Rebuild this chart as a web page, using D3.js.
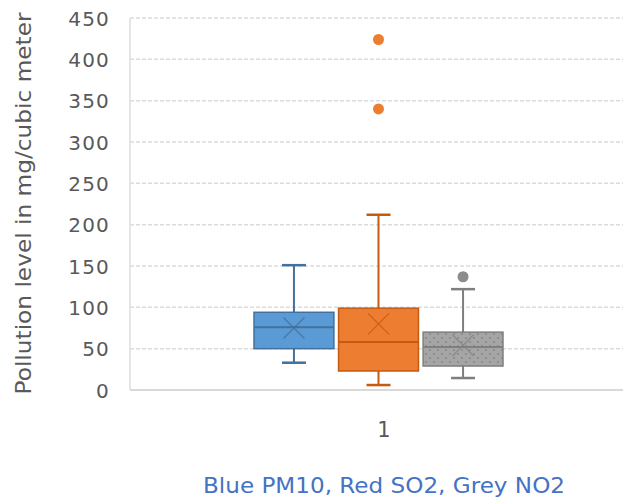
<!DOCTYPE html>
<html><head><meta charset="utf-8">
<script src="https://cdn.jsdelivr.net/npm/d3@7"></script>
<style>body{margin:0;background:#fff;} svg{display:block;}</style>
</head><body>
<svg id="c" width="623" height="504"></svg>
<script>
const categories = ["1"];
const series = ["PM10", "SO2", "NO2"];
const whiskerLow = [33, 6, 14.5];
const q1Values = [50, 23, 29];
const medianValues = [76, 58, 52];
const q3Values = [94, 99, 70];
const whiskerHigh = [151, 212, 122];
const meanValues = [75, 80, 54];
const outlierValues = [[], [340, 424], [137]];
const yTicks = [0, 50, 100, 150, 200, 250, 300, 350, 400, 450];
const fills = ["#5B9BD5", "#ED7D31", "#A5A5A5"];
const strokes = ["#41719C", "#C55A11", "#7F7F7F"];
const outlierFills = ["#5B9BD5", "#ED7D31", "#8C8C8C"];
const yTitle = "Pollution level in mg/cubic meter";
const bottomNote = "Blue PM10, Red SO2, Grey NO2";

(function() {
const svg = d3.select("#c");
const pL = 130, pR = 638, pT = 18, pB = 390;
const y = d3.scaleLinear().domain([0, 450]).range([pB, pT]);
const xCat = d3.scaleBand().domain(categories).range([pL, pR]);
const font = "DejaVu Sans, sans-serif";

const defs = svg.append("defs");
const pat = defs.append("pattern").attr("id", "dots").attr("patternUnits", "userSpaceOnUse")
  .attr("width", 8).attr("height", 8);
pat.append("rect").attr("width", 8).attr("height", 8).attr("fill", fills[2]);
pat.append("circle").attr("cx", 2).attr("cy", 2).attr("r", 0.8).attr("fill", "#717171");
pat.append("circle").attr("cx", 6).attr("cy", 6).attr("r", 0.8).attr("fill", "#717171");

svg.append("g").selectAll("line").data(yTicks.filter(d => d > 0)).join("line")
  .attr("x1", pL).attr("x2", 623)
  .attr("y1", d => y(d)).attr("y2", d => y(d))
  .attr("stroke", "#dcdcdc").attr("stroke-width", 1.5).attr("stroke-dasharray", "4,2");
svg.append("line").attr("x1", pL).attr("x2", pL).attr("y1", pT).attr("y2", pB)
  .attr("stroke", "#dcdcdc").attr("stroke-width", 1.5);
svg.append("line").attr("x1", pL).attr("x2", 623).attr("y1", y(0)).attr("y2", y(0))
  .attr("stroke", "#d9d9d9").attr("stroke-width", 2);

const yAxis = d3.axisLeft(y).tickValues(yTicks).tickSize(0).tickPadding(0);
const ga = svg.append("g").attr("transform", `translate(110,0)`).call(yAxis);
ga.select(".domain").remove();
ga.selectAll("text").attr("font-family", font).attr("font-size", 20).attr("fill", "#595959")
  .attr("letter-spacing", 1.2).attr("dy", "0.36em");

svg.append("text").attr("transform", `translate(31,${(10 + 397) / 2}) rotate(-90)`)
  .attr("text-anchor", "middle").attr("font-family", font).attr("font-size", 21)
  .attr("fill", "#595959").attr("textLength", 382).attr("lengthAdjust", "spacingAndGlyphs")
  .text(yTitle);

svg.append("g").selectAll("text").data(categories).join("text")
  .attr("x", d => xCat(d) + xCat.bandwidth() / 2).attr("y", 437)
  .attr("text-anchor", "middle").attr("font-family", font).attr("font-size", 21)
  .attr("fill", "#595959").text(d => d);

svg.append("text").attr("x", 384).attr("y", 493).attr("text-anchor", "middle")
  .attr("font-family", font).attr("font-size", 21).attr("fill", "#4472C4")
  .attr("textLength", 362).attr("lengthAdjust", "spacingAndGlyphs").text(bottomNote);

categories.forEach(cat => {
  const c0 = xCat(cat);
  const xs = d3.scaleBand().domain(series).range([c0 + 124, c0 + 373]).paddingInner(0.055);
  const bw = xs.bandwidth();
  const data = series.map((s, i) => ({
    s, i, lo: whiskerLow[i], q1: q1Values[i], med: medianValues[i], q3: q3Values[i],
    hi: whiskerHigh[i], mean: meanValues[i], out: outlierValues[i]
  }));
  const g = svg.append("g").selectAll("g").data(data).join("g");
  const cx = d => xs(d.s) + bw / 2;
  g.append("line").attr("x1", cx).attr("x2", cx).attr("y1", d => y(d.q3)).attr("y2", d => y(d.hi))
    .attr("stroke", d => strokes[d.i]).attr("stroke-width", 2);
  g.append("line").attr("x1", cx).attr("x2", cx).attr("y1", d => y(d.q1)).attr("y2", d => y(d.lo))
    .attr("stroke", d => strokes[d.i]).attr("stroke-width", 2);
  g.append("line").attr("x1", d => cx(d) - 12).attr("x2", d => cx(d) + 12)
    .attr("y1", d => y(d.hi)).attr("y2", d => y(d.hi)).attr("stroke", d => strokes[d.i]).attr("stroke-width", 2.5);
  g.append("line").attr("x1", d => cx(d) - 12).attr("x2", d => cx(d) + 12)
    .attr("y1", d => y(d.lo)).attr("y2", d => y(d.lo)).attr("stroke", d => strokes[d.i]).attr("stroke-width", 2.5);
  g.append("rect").attr("x", d => xs(d.s)).attr("width", bw)
    .attr("y", d => y(d.q3)).attr("height", d => y(d.q1) - y(d.q3))
    .attr("fill", d => d.i === 2 ? "url(#dots)" : fills[d.i])
    .attr("stroke", d => strokes[d.i]).attr("stroke-width", 1.5);
  g.append("line").attr("x1", d => xs(d.s)).attr("x2", d => xs(d.s) + bw)
    .attr("y1", d => y(d.med)).attr("y2", d => y(d.med))
    .attr("stroke", d => strokes[d.i]).attr("stroke-width", 2);
  const m = 10.5;
  g.append("path").attr("d", d => {
    const X = cx(d), Y = y(d.mean);
    return `M${X - m},${Y - m}L${X + m},${Y + m}M${X - m},${Y + m}L${X + m},${Y - m}`;
  }).attr("stroke", d => strokes[d.i]).attr("stroke-opacity", 0.8).attr("stroke-width", 1.3).attr("fill", "none");
  g.each(function(d) {
    d3.select(this).selectAll("circle.o").data(d.out).join("circle").attr("class", "o")
      .attr("cx", cx(d)).attr("cy", v => y(v)).attr("r", 5.5).attr("fill", outlierFills[d.i]);
  });
});
})();
</script>
</body></html>
